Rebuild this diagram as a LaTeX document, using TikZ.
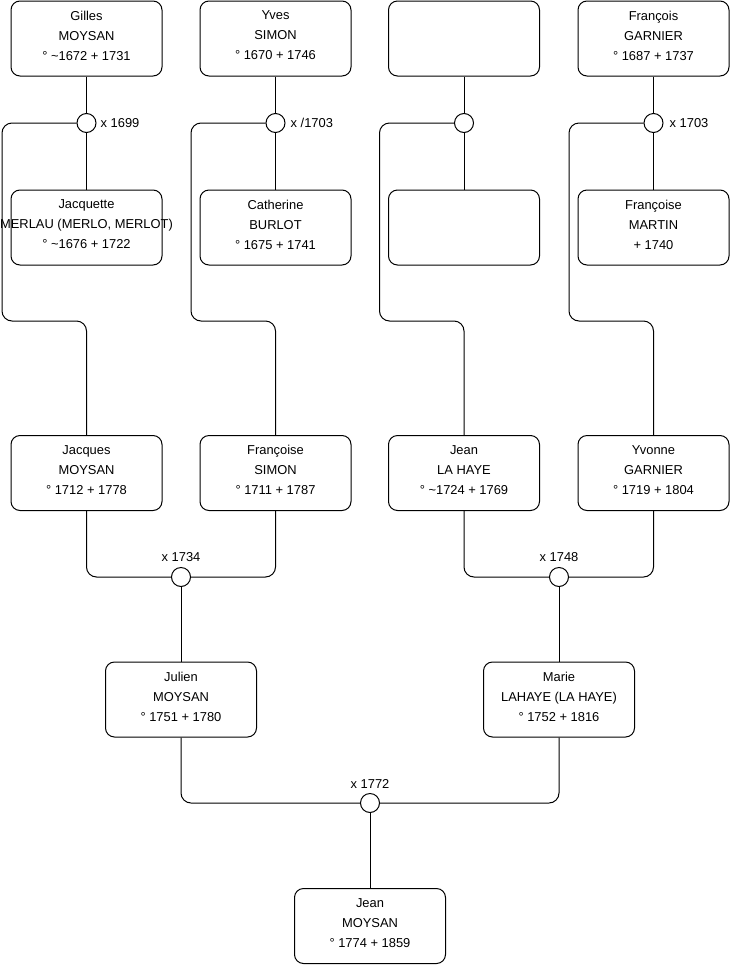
\documentclass[tikz,border=0pt]{standalone}
\usepackage{fontspec}
\setmainfont{Liberation Sans}
\begin{document}
\begin{tikzpicture}[x=1pt,y=-1pt,
  person/.style={draw=black, rounded corners=9pt, minimum width=151pt, minimum height=75pt, inner sep=0pt, line width=1pt, fill=white},
  txt/.style={align=center, font=\fontsize{12.9}{20}\selectfont, inner sep=0pt},
  union/.style={circle, draw=black, fill=white, minimum size=19pt, inner sep=0pt, line width=1pt},
  conn/.style={draw=black, line width=1pt, rounded corners=10pt},
  lbl/.style={font=\fontsize{12.9}{14}\selectfont, inner sep=0pt}]
\useasboundingbox[fill=white] (0,0) rectangle (740,975);

% row 1
\node[person] (gilles) at (86.5,38.5) {};
\node[txt] (gilles-t) at ([yshift=3pt]gilles.center) {Gilles\\MOYSAN\\° \textasciitilde1672 + 1731};
\node[person] (yves) at (275.5,38.5) {};
\node[txt] (yves-t) at ([yshift=3pt]yves.center) {Yves\\SIMON\\° 1670 + 1746};
\node[person] (unk1) at (464,38.5) {};
\node[person] (francois) at (653.5,38.5) {};
\node[txt] (francois-t) at ([yshift=3pt]francois.center) {François\\GARNIER\\° 1687 + 1737};

% row 2
\node[person] (jacquette) at (86.5,227.5) {};
\node[txt] (jacquette-t) at ([yshift=3pt]jacquette.center) {Jacquette\\MERLAU (MERLO, MERLOT)\\° \textasciitilde1676 + 1722};
\node[person] (catherine) at (275.5,227.5) {};
\node[txt] (catherine-t) at ([yshift=3pt]catherine.center) {Catherine\\BURLOT\\° 1675 + 1741};
\node[person] (unk2) at (464,227.5) {};
\node[person] (francoiseM) at (653.5,227.5) {};
\node[txt] (francoiseM-t) at ([yshift=3pt]francoiseM.center) {Françoise\\MARTIN\\+ 1740};

% row 3
\node[person] (jacques) at (86.5,473) {};
\node[txt] (jacques-t) at ([yshift=3pt]jacques.center) {Jacques\\MOYSAN\\° 1712 + 1778};
\node[person] (francoiseS) at (275.5,473) {};
\node[txt] (francoiseS-t) at ([yshift=3pt]francoiseS.center) {Françoise\\SIMON\\° 1711 + 1787};
\node[person] (jeanLH) at (464,473) {};
\node[txt] (jeanLH-t) at ([yshift=3pt]jeanLH.center) {Jean\\LA HAYE\\° \textasciitilde1724 + 1769};
\node[person] (yvonne) at (653.5,473) {};
\node[txt] (yvonne-t) at ([yshift=3pt]yvonne.center) {Yvonne\\GARNIER\\° 1719 + 1804};

% row 4
\node[person] (julien) at (181,699.5) {};
\node[txt] (julien-t) at ([yshift=3pt]julien.center) {Julien\\MOYSAN\\° 1751 + 1780};
\node[person] (marie) at (559,699.5) {};
\node[txt] (marie-t) at ([yshift=3pt]marie.center) {Marie\\LAHAYE (LA HAYE)\\° 1752 + 1816};

% row 5
\node[person] (jeanM) at (370,926) {};
\node[txt] (jeanM-t) at ([yshift=3pt]jeanM.center) {Jean\\MOYSAN\\° 1774 + 1859};

% unions
\node[union] (c1) at (86.5,123) {};
\node[union] (c2) at (275.5,123) {};
\node[union] (c3) at (464,123) {};
\node[union] (c4) at (653.5,123) {};
\node[union] (c5) at (181,577) {};
\node[union] (c6) at (559,577) {};
\node[union] (c7) at (370,803) {};

\node[lbl, anchor=west] (l1) at ([xshift=4pt]c1.east) {x 1699};
\node[lbl, anchor=west] (l2) at ([xshift=5pt]c2.east) {x /1703};
\node[lbl, anchor=west] (l4) at ([xshift=6pt]c4.east) {x 1703};
\node[lbl] (l5) at ([yshift=9.5pt]c5.north) {x 1734};
\node[lbl] (l6) at ([yshift=9.5pt]c6.north) {x 1748};
\node[lbl] (l7) at ([yshift=9.5pt]c7.north) {x 1772};

% connectors, top couples
\draw[conn] (gilles) -- (c1);
\draw[conn] (c1) -- (jacquette);
\draw[conn] (yves) -- (c2);
\draw[conn] (c2) -- (catherine);
\draw[conn] (unk1) -- (c3);
\draw[conn] (c3) -- (unk2);
\draw[conn] (francois) -- (c4);
\draw[conn] (c4) -- (francoiseM);

% children of top couples
\draw[conn] (c1.west) -| (2,321) -| (jacques.north);
\draw[conn] (c2.west) -| (191,321) -| (francoiseS.north);
\draw[conn] (c3.west) -| (379.5,321) -| (jeanLH.north);
\draw[conn] (c4.west) -| (569,321) -| (yvonne.north);

% middle couples
\draw[conn] (jacques.south) |- (c5.west);
\draw[conn] (francoiseS.south) |- (c5.east);
\draw[conn] (c5) -- (julien);
\draw[conn] (jeanLH.south) |- (c6.west);
\draw[conn] (yvonne.south) |- (c6.east);
\draw[conn] (c6) -- (marie);

% bottom couple
\draw[conn] (julien.south) |- (c7.west);
\draw[conn] (marie.south) |- (c7.east);
\draw[conn] (c7) -- (jeanM);
\end{tikzpicture}
\end{document}
